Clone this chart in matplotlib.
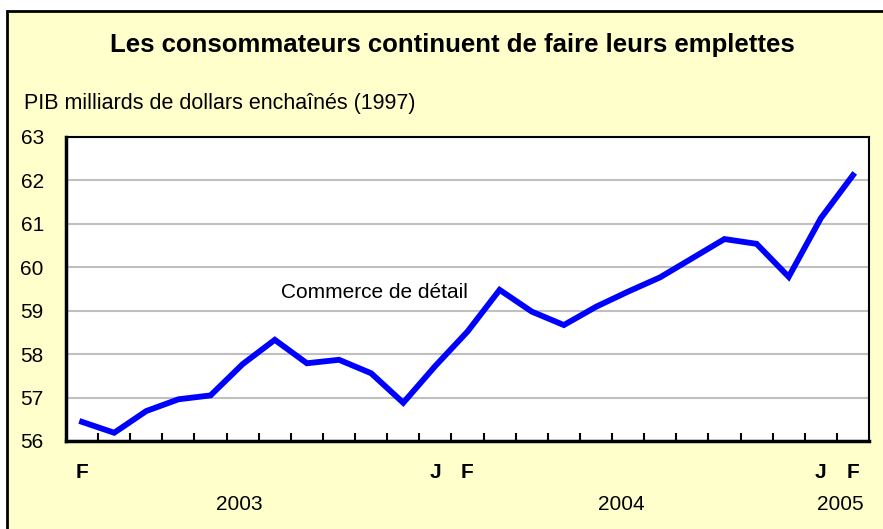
import matplotlib.pyplot as plt
from matplotlib.patches import Rectangle
import matplotlib.transforms as mtransforms

plt.rcParams['font.family'] = ['Liberation Sans', 'DejaVu Sans']

# Feb 2003 .. Feb 2005, monthly
values = [56.44, 56.19, 56.69, 56.96, 57.05, 57.77, 58.33, 57.79, 57.87, 57.56,
          56.88, 57.73, 58.52, 59.48, 58.98, 58.67, 59.09, 59.44, 59.77, 60.21,
          60.65, 60.54, 59.78, 61.13, 62.12]
month_labels = ['F', '', '', '', '', '', '', '', '', '', '',
                'J', 'F', '', '', '', '', '', '', '', '', '', '', 'J', 'F']
years = ['2003', '2004', '2005']
year_centers = [4.9, 16.8, 23.6]

bg = '#FFFFCC'
fig = plt.figure(figsize=(8.83, 5.29), dpi=100)
fig.patch.set_facecolor('white')
# yellow panel with a black border (bottom/right cut off in the original)
fig.patches.append(Rectangle((7/883, -0.05), 1.1, 1 - 11/529 + 0.05, transform=fig.transFigure,
                             facecolor=bg, edgecolor='black', linewidth=2, zorder=-1))

ax = fig.add_axes([66/883, 1 - 441/529, (869 - 66)/883, (441 - 137)/529])
ax.set_zorder(1)
ax.set_facecolor('white')

x = list(range(len(values)))
ax.plot(x, values, color='#0000FF', linewidth=4.2, solid_joinstyle='miter', zorder=3)

ax.set_xlim(-0.5, len(values) - 0.5)
ax.set_ylim(56, 63)
ax.set_yticks(range(56, 64))
ax.grid(axis='y', color='#C0C0C0', linewidth=1.5)
ax.set_axisbelow(True)
for s in ax.spines.values():
    s.set_color('black')
    s.set_linewidth(1.5)
ax.spines['left'].set_linewidth(2.5)
ax.spines['bottom'].set_linewidth(2.5)

# ticks between months, labels under months
ax.set_xticks([i + 0.5 for i in range(len(values) - 1)])
ax.set_xticklabels([])
ax.tick_params(axis='x', direction='in', length=6, width=1.5)
ax.tick_params(axis='y', length=0, labelsize=15, pad=16)

trans = mtransforms.blended_transform_factory(ax.transData, fig.transFigure)
for i, lab in enumerate(month_labels):
    if lab:
        ax.text(i, 1 - 473/529, lab, transform=trans, ha='center', va='center',
                fontsize=15, fontweight='bold', clip_on=False)
for yr, c in zip(years, year_centers):
    ax.text(c, 1 - 505/529, yr, transform=trans, ha='center', va='center',
            fontsize=15, clip_on=False)

ax.text(6.2, 59.43, 'Commerce de détail', ha='left', va='center', fontsize=15)

fig.text(452/883, 1 - 45/529, 'Les consommateurs continuent de faire leurs emplettes',
         ha='center', va='center', fontsize=18.5, fontweight='bold')
fig.text(24/883, 1 - 103/529, 'PIB milliards de dollars enchaînés (1997)',
         ha='left', va='center', fontsize=15.5)

fig.savefig('out.png', dpi=100, facecolor=fig.get_facecolor())
